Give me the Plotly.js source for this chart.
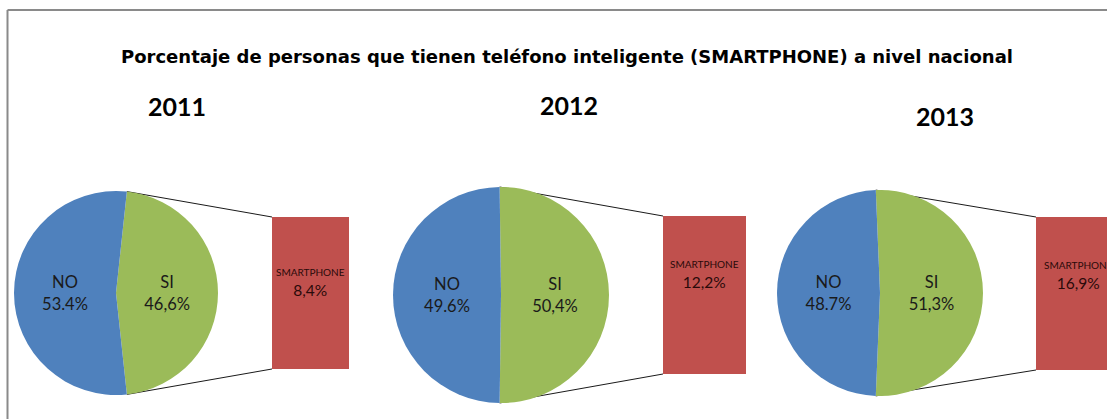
<!DOCTYPE html>
<html><head><meta charset="utf-8">
<script src="https://cdn.plot.ly/plotly-3.0.1.min.js"></script>
<style>html,body{margin:0;padding:0;background:#fff;} #chart{width:1107px;height:419px;}</style>
</head><body><div id="chart"></div>
<script>
// ---- data ----
const years = ['2011', '2012', '2013'];
const sliceLabels = ['SI', 'NO'];
const siValues = [46.6, 50.4, 51.3];
const noValues = [53.4, 49.6, 48.7];
const siText = ['46,6%', '50,4%', '51,3%'];
const noText = ['53.4%', '49.6%', '48.7%'];
const smartLabel = 'SMARTPHONE';
const smartValues = [8.4, 12.2, 16.9];
const smartText = ['8,4%', '12,2%', '16,9%'];
const titleText = 'Porcentaje de personas que tienen teléfono inteligente (SMARTPHONE) a nivel nacional';

// ---- layout geometry (pixels) ----
const W = 1107, H = 419;
const pies = [{cx:116, cy:293, r:102}, {cx:501, cy:295, r:108}, {cx:880, cy:293, r:103}];
const boxes = [{x0:272, x1:349, y0:217, y1:369}, {x0:663, x1:746, y0:216, y1:374}, {x0:1036, x1:1120, y0:217, y1:370}];
const yearPos = [{x:177, y:106}, {x:569, y:105}, {x:945, y:116}];
const labelFrac = [0.57, 0.63, 0.62];
const GREEN = '#9BBB59', BLUE = '#4F81BD', RED = '#C0504D';

const px = x => x / W;
const py = y => 1 - y / H;

const traces = [];
const layout = {
  width: W, height: H,
  margin: {l:0, r:0, t:0, b:0},
  paper_bgcolor: '#fff', plot_bgcolor: 'rgba(0,0,0,0)',
  showlegend: false,
  hovermode: false,
  title: {
    text: '<b>' + titleText + '</b>',
    font: {family: 'DejaVu Sans, Liberation Sans, Arial, sans-serif', size: 18, color: '#000'},
    x: px(567), xanchor: 'center', xref: 'container',
    y: py(57), yanchor: 'middle', yref: 'container'
  },
  shapes: [
    {type:'line', xref:'paper', yref:'paper', x0:px(7.5), x1:px(7.5), y0:0, y1:py(10), line:{color:'#8a8a8a', width:2}},
    {type:'line', xref:'paper', yref:'paper', x0:px(7.5), x1:1, y0:py(10), y1:py(10), line:{color:'#8a8a8a', width:2}}
  ],
  annotations: []
};

years.forEach((yr, i) => {
  const p = pies[i], b = boxes[i];
  const si = siValues[i], no = noValues[i];
  const siFrac = si / (si + no);
  const rot = 90 - siFrac * 180;
  traces.push({
    type: 'pie',
    values: [si, no],
    labels: sliceLabels,
    text: [sliceLabels[0] + '<br>' + siText[i], sliceLabels[1] + '<br>' + noText[i]],
    textinfo: 'text',
    textposition: 'inside',
    insidetextorientation: 'horizontal',
    sort: false,
    direction: 'clockwise',
    rotation: rot,
    marker: {colors: [GREEN, BLUE], line: {width: 0}},
    textfont: {family: 'Lato, sans-serif', size: 16.5, color: '#1a1a1a'},
    domain: {x: [px(p.cx - p.r), px(p.cx + p.r)], y: [py(p.cy + p.r), py(p.cy - p.r)]},
    hoverinfo: 'skip'
  });

  // secondary bar
  const sfx = i === 0 ? '' : String(i + 1);
  const bx1 = Math.min(b.x1, W);
  const xr1 = -0.5 + (bx1 - b.x0) / (b.x1 - b.x0);
  traces.push({
    type: 'bar', x: [0], y: [smartValues[i]], width: [1],
    marker: {color: RED, line: {width: 0}},
    xaxis: 'x' + sfx, yaxis: 'y' + sfx,
    hoverinfo: 'skip'
  });
  layout['xaxis' + sfx] = {domain: [px(b.x0), px(bx1)], range: [-0.5, xr1], visible: false, fixedrange: true};
  layout['yaxis' + sfx] = {domain: [py(b.y1), py(b.y0)], range: [0, smartValues[i]], visible: false, fixedrange: true};
  layout.annotations.push({
    xref: 'x' + sfx, yref: 'y' + sfx, x: 0, y: smartValues[i] * labelFrac[i],
    text: '<span style="font-size:10px">' + smartLabel + '</span><br>' + smartText[i],
    font: {family: 'Lato, sans-serif', size: 15.5, color: '#2a0a0a'},
    showarrow: false, xanchor: 'center', yanchor: 'middle'
  });

  // year label
  layout.annotations.push({
    xref: 'paper', yref: 'paper', x: px(yearPos[i].x), y: py(yearPos[i].y),
    text: '<b>' + yr + '</b>',
    font: {family: 'Lato, sans-serif', size: 25, color: '#000'},
    showarrow: false, xanchor: 'center', yanchor: 'middle'
  });

  // connector lines from SI slice edges to bar corners
  const a1 = rot * Math.PI / 180;
  const a2 = (rot + siFrac * 360) * Math.PI / 180;
  const tx = p.cx + p.r * Math.sin(a1), ty = p.cy - p.r * Math.cos(a1);
  const bxp = p.cx + p.r * Math.sin(a2), byp = p.cy - p.r * Math.cos(a2);
  layout.shapes.push({type:'line', layer:'below', xref:'paper', yref:'paper', x0:px(tx), y0:py(ty), x1:px(b.x0), y1:py(b.y0), line:{color:'#1a1a1a', width:1}});
  layout.shapes.push({type:'line', layer:'below', xref:'paper', yref:'paper', x0:px(bxp), y0:py(byp), x1:px(b.x0), y1:py(b.y1), line:{color:'#1a1a1a', width:1}});
});

Plotly.newPlot('chart', traces, layout, {staticPlot: true, displayModeBar: false});
</script>
</body></html>
